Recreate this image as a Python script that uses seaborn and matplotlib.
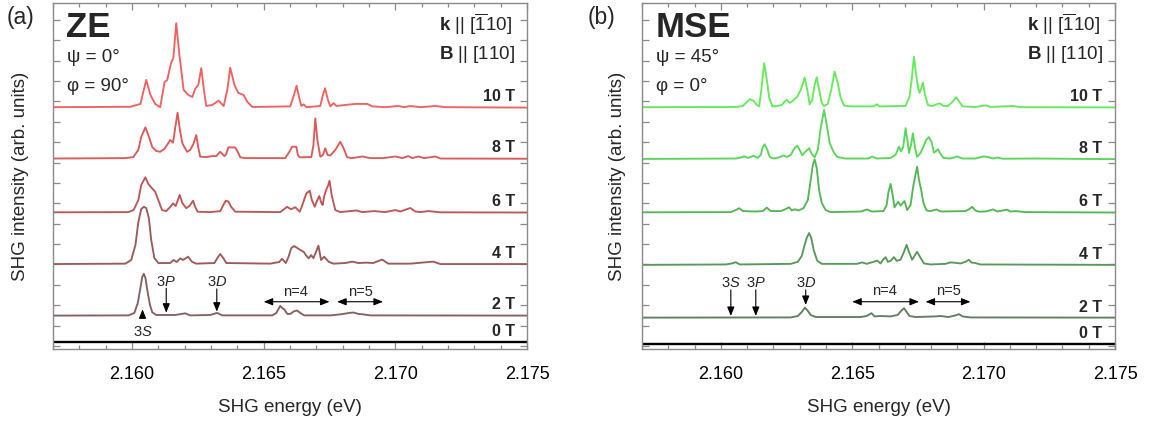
import matplotlib
matplotlib.use("Agg")
import matplotlib.pyplot as plt
import matplotlib.transforms as mtransforms
from matplotlib.ticker import MultipleLocator, FormatStrFormatter, NullFormatter
import pandas as pd
import seaborn as sns

# ---------------- data (energy in eV, intensity in arb. units above each baseline) ----------------
fields = ["0 T", "2 T", "4 T", "6 T", "8 T", "10 T"]

# ZE geometry (panel a)
ze_0T_x = [2.157, 2.175]
ze_0T_y = [0.0, 0.0]

ze_2T_x = [2.157, 2.15986, 2.16009, 2.16022, 2.16032, 2.16039, 2.16045, 2.16051, 2.16058, 2.16068, 2.16077, 2.16092,
           2.16164, 2.16202, 2.16221, 2.16297, 2.16323, 2.16343, 2.16533, 2.16548, 2.16563, 2.16571, 2.16578, 2.16590,
           2.16601, 2.16615, 2.16627, 2.16639, 2.16654, 2.16753, 2.16791, 2.16825, 2.16842, 2.16860, 2.16878, 2.16905, 2.175]
ze_2T_y = [0, .01, .13, .62, 1.36, 1.9, 2.05, 1.85, 1.26, .53, .16, .03,
           .03, .11, .01, .03, .13, .01, .01, .13, .48, .36, .31, .08,
           .08, .21, .25, .13, .01, .01, .06, .13, .15, .08, .06, .01, 0]

ze_4T_x = [2.157, 2.15975, 2.15997, 2.16013, 2.16024, 2.16035, 2.16045, 2.16054, 2.16064, 2.16073, 2.16085, 2.16100,
           2.16145, 2.16158, 2.16170, 2.16183, 2.16194, 2.16213, 2.16228, 2.16244, 2.16313, 2.16324, 2.16335, 2.16347,
           2.16358, 2.16525, 2.16559, 2.16570, 2.16584, 2.16594, 2.16605, 2.16616, 2.16630, 2.16639, 2.16652, 2.16660,
           2.16671, 2.16680, 2.16689, 2.16700, 2.16708, 2.16718, 2.16730, 2.16747, 2.16765, 2.16810, 2.16836, 2.16860,
           2.16890, 2.16916, 2.16950, 2.16973, 2.17057, 2.17144, 2.17171, 2.175]
ze_4T_y = [0, .02, .2, .93, 2.06, 2.7, 2.81, 2.75, 2.26, 1.18, .29, .05,
           .05, .2, .1, .28, .2, .36, .11, .02, .05, .29, .49, .29,
           .05, .02, .1, .26, .05, .34, .79, .88, .77, .69, .6, .44,
           .28, .44, .29, .64, .9, .2, .36, .11, .02, .05, .12, .05,
           .07, .05, .22, .02, .02, .12, 0, 0]

ze_6T_x = [2.157, 2.15986, 2.16006, 2.16024, 2.16035, 2.16051, 2.16062, 2.16076, 2.16088, 2.16100, 2.16114, 2.16130,
           2.16145, 2.16156, 2.16166, 2.16174, 2.16181, 2.16191, 2.16206, 2.16218, 2.16232, 2.16240, 2.16249, 2.16297,
           2.16335, 2.16347, 2.16356, 2.16366, 2.16377, 2.16392, 2.16563, 2.16589, 2.16604, 2.16620, 2.16637, 2.16647,
           2.16662, 2.16675, 2.16683, 2.16694, 2.16702, 2.16711, 2.16719, 2.16724, 2.16730, 2.16737, 2.16744, 2.16750,
           2.16759, 2.16772, 2.16791, 2.16852, 2.16875, 2.16918, 2.16962, 2.17000, 2.17019, 2.17057, 2.17076, 2.17095,
           2.17125, 2.17171, 2.175]
ze_6T_y = [0, .01, .11, .6, 1.34, 1.72, 1.39, 1.18, 1.01, .6, .11, .06,
           .26, .44, .31, .6, .85, .46, .2, .31, .57, .26, .03, .01,
           .06, .36, .57, .53, .26, .03, .01, .27, .15, .25, .03, .36,
           .93, 1.06, .6, .27, .55, .8, .46, .36, .8, 1.09, 1.29, 1.55,
           .8, .11, .01, .09, .01, .06, .01, .11, .04, .21, .04, .01,
           .06, 0, -.01]

ze_8T_x = [2.157, 2.15975, 2.16005, 2.16024, 2.16035, 2.16051, 2.16062, 2.16077, 2.16092, 2.16107, 2.16123, 2.16138,
           2.16145, 2.16156, 2.16164, 2.16173, 2.16182, 2.16191, 2.16209, 2.16221, 2.16233, 2.16244, 2.16252, 2.16259,
           2.16282, 2.16304, 2.16320, 2.16335, 2.16351, 2.16358, 2.16366, 2.16392, 2.16404, 2.16411, 2.16430, 2.16582,
           2.16597, 2.16608, 2.16624, 2.16630, 2.16637, 2.16681, 2.16689, 2.16696, 2.16704, 2.16715, 2.16725, 2.16734,
           2.16743, 2.16753, 2.16772, 2.16791, 2.16803, 2.16817, 2.16837, 2.16874, 2.16905, 2.16954, 2.17000, 2.17027,
           2.17049, 2.17065, 2.17087, 2.17110, 2.17152, 2.17171, 2.175]
ze_8T_y = [0, .02, .07, .42, 1.06, 1.53, 1.15, .56, .37, .33, .47, .76,
           .91, .78, 1.5, 2.25, 1.4, .76, .33, .42, .71, 1.15, .52, .09,
           .07, .12, .12, .33, .12, .22, .55, .54, .27, .06, .02, .02,
           .32, .58, .58, .17, .06, .07, .66, 1.97, .91, .09, .17, .5,
           .17, .15, .42, .82, .52, .06, .02, .1, .02, .02, .1, .02,
           .12, .02, .1, .02, .1, 0, -.01]

ze_10T_x = [2.157, 2.15994, 2.16032, 2.16054, 2.16070, 2.16088, 2.16107, 2.16124, 2.16134, 2.16148, 2.16157, 2.16168,
            2.16180, 2.16196, 2.16214, 2.16229, 2.16240, 2.16252, 2.16263, 2.16273, 2.16282, 2.16305, 2.16329, 2.16348,
            2.16362, 2.16373, 2.16389, 2.16404, 2.16424, 2.16438, 2.16457, 2.16601, 2.16615, 2.16625, 2.16635, 2.16643,
            2.16652, 2.16662, 2.16715, 2.16725, 2.16733, 2.16744, 2.16753, 2.16766, 2.16776, 2.16810, 2.16848, 2.16894,
            2.16913, 2.16962, 2.17011, 2.17034, 2.17057, 2.17095, 2.17152, 2.17190, 2.175]
ze_10T_y = [0, .02, .16, 1.34, .6, .16, 0, 1.24, 1.34, 2.16, 2.42, 4.12,
            2.57, .85, .6, .5, .9, 1.1, 1.92, .85, .06, .11, .32, .06,
            .85, 1.94, 1.09, .7, .6, .26, .01, .04, .6, 1.05, .46, .06,
            .14, 0, .06, .6, .93, .36, .04, .2, .06, .11, .16, .16,
            .04, 0, .06, 0, .06, 0, .06, 0, -.02]

# MSE geometry (panel b)
mse_0T_x = [2.157, 2.175]
mse_0T_y = [0.0, 0.0]

mse_2T_x = [2.157, 2.16266, 2.16293, 2.16308, 2.16320, 2.16331, 2.16342, 2.16361,
            2.16532, 2.16555, 2.16573, 2.16585, 2.16608, 2.16646, 2.16673, 2.16686,
            2.16697, 2.16707, 2.16718, 2.16741, 2.16817, 2.16836, 2.16866, 2.16893,
            2.16906, 2.16920, 2.16950, 2.175]
mse_2T_y = [0, .01, .08, .28, .49, .33, .13, .03,
            .03, .08, .22, .06, .08, .06, .13, .33,
            .46, .28, .08, .03, .06, .08, .03, .11,
            .17, .06, .01, 0]

mse_4T_x = [2.157, 2.16019, 2.16042, 2.16057, 2.16072, 2.16266, 2.16293, 2.16308, 2.16319, 2.16327,
            2.16336, 2.16344, 2.16353, 2.16367, 2.16384, 2.16517, 2.16538, 2.16555, 2.16581, 2.16595,
            2.16608, 2.16617, 2.16627, 2.16636, 2.16646, 2.16659, 2.16669, 2.16684, 2.16697, 2.16707,
            2.16716, 2.16728, 2.16737, 2.16747, 2.16758, 2.16773, 2.16798, 2.16855, 2.16874, 2.16893,
            2.16912, 2.16931, 2.16944, 2.16954, 2.16965, 2.16988, 2.175]
mse_4T_y = [0, .02, .07, .13, .02, .05, .15, .44, .98, 1.33,
            1.56, 1.33, .74, .2, .05, .05, .12, .05, .15, .21,
            .07, .25, .38, .15, .2, .38, .2, .25, .64, .98,
            .64, .25, .44, .64, .39, .07, .02, .05, .12, .1,
            .07, .15, .25, .11, .1, .02, 0]

mse_6T_x = [2.157, 2.16038, 2.16057, 2.16070, 2.16084, 2.16133, 2.16160, 2.16175, 2.16190, 2.16228,
            2.16247, 2.16260, 2.16270, 2.16281, 2.16296, 2.16315, 2.16331, 2.16342, 2.16350, 2.16357,
            2.16365, 2.16374, 2.16384, 2.16399, 2.16418, 2.16532, 2.16557, 2.16574, 2.16619, 2.16631,
            2.16638, 2.16646, 2.16654, 2.16661, 2.16669, 2.16675, 2.16684, 2.16692, 2.16699, 2.16709,
            2.16722, 2.16733, 2.16747, 2.16754, 2.16763, 2.16771, 2.16783, 2.16798, 2.16821, 2.16836,
            2.16931, 2.16946, 2.16956, 2.16969, 2.16984, 2.17007, 2.17036, 2.17053, 2.17089, 2.17102,
            2.17121, 2.17159, 2.175]
mse_6T_y = [0, .01, .11, .2, .06, .04, .06, .23, .06, .06,
            .16, .25, .09, .15, .09, .21, .6, 1.59, 2.32, 2.6,
            2.17, 1.09, .46, .11, .01, .04, .14, .04, .06, .36,
            1.0, 1.39, .85, .24, .41, .52, .33, .46, .55, .11,
            .36, 1.34, 2.24, 1.59, 1.06, .46, .09, .06, .14, .04,
            .06, .16, .27, .09, .03, .04, .14, .04, .13, .04,
            .06, .01, -.01]

mse_8T_x = [2.157, 2.16057, 2.16076, 2.16089, 2.16103, 2.16124, 2.16141, 2.16152, 2.16160, 2.16167,
            2.16177, 2.16186, 2.16198, 2.16220, 2.16238, 2.16251, 2.16266, 2.16281, 2.16291, 2.16300,
            2.16310, 2.16323, 2.16336, 2.16346, 2.16357, 2.16369, 2.16380, 2.16393, 2.16403, 2.16414,
            2.16429, 2.16443, 2.16475, 2.16562, 2.16576, 2.16593, 2.16646, 2.16665, 2.16678, 2.16686,
            2.16694, 2.16703, 2.16711, 2.16716, 2.16724, 2.16731, 2.16739, 2.16747, 2.16760, 2.16771,
            2.16781, 2.16792, 2.16802, 2.16811, 2.16819, 2.16826, 2.16836, 2.16847, 2.16874, 2.16899,
            2.16920, 2.16969, 2.16999, 2.17015, 2.17034, 2.17053, 2.17072, 2.17197, 2.175]
mse_8T_y = [0, .02, .07, .13, .05, .15, .05, .2, .59, .72,
            .44, .1, .02, .07, .17, .1, .2, .54, .65, .44,
            .18, .37, .53, .25, .08, .44, 1.52, 2.4, 1.67, .79,
            .34, .1, .02, .02, .12, .02, .05, .2, .6, .37,
            .59, 1.51, .83, .29, .69, 1.26, .54, .1, .29, .6,
            .93, 1.07, .83, .31, .39, .48, .25, .05, .02, .12,
            .02, .02, .12, .1, .02, .07, .01, .02, -.01]

mse_10T_x = [2.157, 2.16057, 2.16084, 2.16099, 2.16111, 2.16125, 2.16137, 2.16146, 2.16154, 2.16165,
             2.16175, 2.16184, 2.16196, 2.16213, 2.16232, 2.16243, 2.16251, 2.16262, 2.16274, 2.16291,
             2.16304, 2.16319, 2.16329, 2.16338, 2.16348, 2.16357, 2.16365, 2.16374, 2.16384, 2.16393,
             2.16407, 2.16420, 2.16433, 2.16445, 2.16456, 2.16469, 2.16494, 2.16581, 2.16593, 2.16604,
             2.16703, 2.16718, 2.16726, 2.16735, 2.16743, 2.16751, 2.16756, 2.16762, 2.16769, 2.16777,
             2.16789, 2.16806, 2.16825, 2.16833, 2.16847, 2.16863, 2.16878, 2.16896, 2.16908, 2.16920,
             2.16969, 2.17009, 2.17026, 2.17113, 2.17140, 2.175]
mse_10T_y = [0, .01, .06, .26, .39, .31, .11, .04, .85, 2.16,
             1.34, .46, .04, .06, .11, .28, .36, .21, .31, .52,
             .85, 1.45, .85, .14, .36, 1.09, 1.47, .85, .21, .06,
             .16, .85, 1.75, 1.19, .46, .08, .04, .04, .14, .04,
             .06, .51, 1.34, 2.48, 1.59, .95, .7, .9, 1.21, .6,
             .09, .06, .16, .19, .06, .06, .21, .49, .26, .04,
             .01, .09, .01, .06, 0, -.01]

# vertical stacking of the traces (layout)
ze_offsets = [0.20, 1.49, 4.02, 6.56, 9.20, 11.72]
mse_offsets = [0.08, 1.39, 3.98, 6.56, 9.18, 11.72]

ze_colors = ["#000000", "#836262", "#9c5a5a", "#bd5757", "#dc5a5a", "#f06262"]
mse_colors = ["#000000", "#5f805f", "#5a985a", "#55b655", "#5ad65a", "#66ea5c"]

# ---------------- style ----------------
sns.set_theme(style="ticks")
plt.rcParams["font.family"] = ["Liberation Sans", "DejaVu Sans"]
plt.rcParams["mathtext.fontset"] = "custom"
plt.rcParams["mathtext.rm"] = "Liberation Sans"
plt.rcParams["mathtext.it"] = "Liberation Sans:italic"
plt.rcParams["mathtext.bf"] = "Liberation Sans:bold"

SPINE = "#8a8a8a"


def build(xs, ys, offsets):
    frames = []
    for f, x, y, off in zip(fields, xs, ys, offsets):
        frames.append(pd.DataFrame({"field": f, "energy": x, "signal": [v + off for v in y]}))
    return pd.concat(frames, ignore_index=True)


ze_df = build([ze_0T_x, ze_2T_x, ze_4T_x, ze_6T_x, ze_8T_x, ze_10T_x],
              [ze_0T_y, ze_2T_y, ze_4T_y, ze_6T_y, ze_8T_y, ze_10T_y], ze_offsets)
mse_df = build([mse_0T_x, mse_2T_x, mse_4T_x, mse_6T_x, mse_8T_x, mse_10T_x],
               [mse_0T_y, mse_2T_y, mse_4T_y, mse_6T_y, mse_8T_y, mse_10T_y], mse_offsets)

fig = plt.figure(figsize=(11.56, 4.21), dpi=100)
ax_a = fig.add_axes([53 / 1156, 1 - 349 / 421, 474 / 1156, 345.7 / 421])
ax_b = fig.add_axes([642 / 1156, 1 - 349 / 421, 473 / 1156, 345.7 / 421])


def draw_panel(ax, df, offsets, colors, title, psi, phi, label_x, panel_letter, letter_x, ylabel_x):
    for f, c in zip(fields, colors):
        sub = df[df["field"] == f]
        sns.lineplot(data=sub, x="energy", y="signal", ax=ax, color=c,
                     lw=1.7 if f == "0 T" else 1.35, estimator=None, sort=False, legend=False)
    ax.set_xlim(2.157, 2.175)
    ax.set_ylim(-0.15, 16.82)
    ax.xaxis.set_major_locator(MultipleLocator(0.005))
    ax.xaxis.set_minor_locator(MultipleLocator(0.001))
    ax.xaxis.set_major_formatter(FormatStrFormatter("%.3f"))
    ax.yaxis.set_major_locator(MultipleLocator(1))
    ax.yaxis.set_major_formatter(NullFormatter())
    ax.tick_params(which="both", direction="in", top=True, right=True, color=SPINE, width=0.9)
    ax.tick_params(which="major", length=5)
    ax.tick_params(which="minor", length=2.6)
    ax.tick_params(axis="x", labelsize=13, pad=12, labelcolor="black")
    for sp in ax.spines.values():
        sp.set_color(SPINE)
        sp.set_linewidth(1.0)
    ax.set_xlabel("SHG energy (eV)", fontsize=13.5)
    ax.xaxis.set_label_coords(0.5, -0.145)
    ax.set_ylabel("SHG intensity (arb. units)", fontsize=13.5)
    ax.yaxis.set_label_coords(ylabel_x, 0.5)

    tr = mtransforms.blended_transform_factory(ax.transAxes, ax.transData)
    for f, off in zip(fields, offsets):
        ax.text(label_x, off + 0.52, f, transform=tr, ha="right", va="center",
                fontsize=11.5, fontweight="bold")

    ax.text(0.028, 0.931, title, transform=ax.transAxes, fontsize=25, fontweight="bold",
            ha="left", va="center")
    ax.text(0.03, 0.844, psi, transform=ax.transAxes, fontsize=13.5, ha="left", va="center")
    ax.text(0.03, 0.758, phi, transform=ax.transAxes, fontsize=13.5, ha="left", va="center")
    ax.text(0.968, 0.939, r"$\mathbf{k}$ || [$\overline{1}$10]", transform=ax.transAxes,
            fontsize=13.5, ha="right", va="center")
    ax.text(0.975, 0.853, r"$\mathbf{B}$ || [110]", transform=ax.transAxes,
            fontsize=13.5, ha="right", va="center")
    fig.text(letter_x, 0.958, panel_letter, fontsize=16.5, ha="left", va="center")


draw_panel(ax_a, ze_df, ze_offsets, ze_colors, "ZE", "ψ = 0°", "φ = 90°", 0.975, "(a)", 0.006, -0.05)
draw_panel(ax_b, mse_df, mse_offsets, mse_colors, "MSE", "ψ = 45°", "φ = 0°", 0.972, "(b)", 0.508, -0.033)

# ---------------- annotations of exciton states ----------------
ARW = dict(arrowstyle="-|>,head_length=0.45,head_width=0.18", color="black", lw=0.8, shrinkA=0, shrinkB=0)
DARW = dict(arrowstyle="<|-|>,head_length=0.45,head_width=0.18", color="black", lw=0.8, shrinkA=0, shrinkB=0)
AFS = 10.5


def state_arrow(ax, x, text_y, tail, tip, label):
    ax.annotate("", xy=(x, tip), xytext=(x, tail), arrowprops=ARW)
    ax.text(x, text_y, label, ha="center", va="center", fontsize=AFS)


# panel a
state_arrow(ax_a, 2.16040, 0.70, 1.37, 1.80, r"3$\mathit{S}$")
state_arrow(ax_a, 2.16130, 3.16, 2.83, 1.63, r"3$\mathit{P}$")
state_arrow(ax_a, 2.16322, 3.16, 2.80, 1.68, r"3$\mathit{D}$")
ax_a.annotate("", xy=(2.16500, 2.17), xytext=(2.16750, 2.17), arrowprops=DARW)
ax_a.text(2.16620, 2.67, "n=4", ha="center", va="center", fontsize=AFS)
ax_a.annotate("", xy=(2.16779, 2.17), xytext=(2.16953, 2.17), arrowprops=DARW)
ax_a.text(2.16867, 2.67, "n=5", ha="center", va="center", fontsize=AFS)

# panel b
state_arrow(ax_b, 2.16038, 3.11, 2.75, 1.47, r"3$\mathit{S}$")
state_arrow(ax_b, 2.16133, 3.11, 2.75, 1.47, r"3$\mathit{P}$")
state_arrow(ax_b, 2.16323, 3.11, 2.75, 2.01, r"3$\mathit{D}$")
ax_b.annotate("", xy=(2.16500, 2.17), xytext=(2.16754, 2.17), arrowprops=DARW)
ax_b.text(2.16621, 2.71, "n=4", ha="center", va="center", fontsize=AFS)
ax_b.annotate("", xy=(2.16779, 2.17), xytext=(2.16950, 2.17), arrowprops=DARW)
ax_b.text(2.16868, 2.71, "n=5", ha="center", va="center", fontsize=AFS)

fig.savefig("out.png", dpi=100)
